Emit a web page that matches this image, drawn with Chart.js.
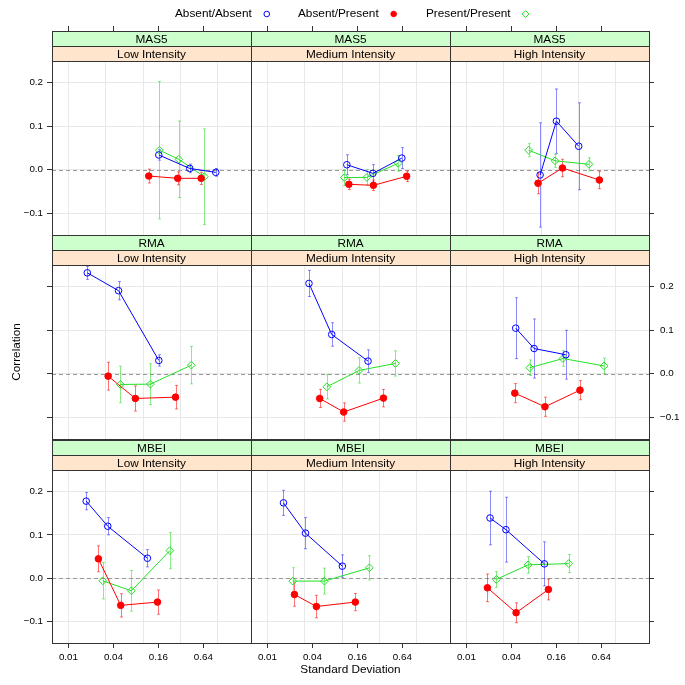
<!DOCTYPE html>
<html>
<head>
<meta charset="utf-8">
<script src="https://cdn.jsdelivr.net/npm/chart.js@4.4.0/dist/chart.umd.min.js"></script>
<style>
  html, body { margin: 0; padding: 0; background: #fff; }
  #wrap { position: relative; width: 685px; height: 685px; }
  #wrap canvas { position: absolute; left: 0; top: 0; }
</style>
</head>
<body>
<div id="wrap"></div>
<script>
const methods = ['MAS5', 'RMA', 'MBEI'];
const intensities = ['Low Intensity', 'Medium Intensity', 'High Intensity'];
const groups = ['Absent/Absent', 'Absent/Present', 'Present/Present'];

const xTicks = [0.01, 0.04, 0.16, 0.64];
const xTickLabels = ['0.01', '0.04', '0.16', '0.64'];
const xGrid = [0.01, 0.0316, 0.1, 0.316, 1];
const yTicks = [-0.1, 0, 0.1, 0.2];
const yTickLabels = ['\u22120.1', '0.0', '0.1', '0.2'];

// each array: [Absent/Absent, Absent/Present, Present/Present]
const mas5LowSd = [[0.162, 0.42, 0.937], [0.119, 0.290, 0.597], [0.165, 0.300, 0.658]];
const mas5LowCor = [[0.034, 0.003, -0.006], [-0.0145, -0.0197, -0.0197], [0.045, 0.024, -0.016]];
const mas5LowErr = [[0.012, 0.010, 0.009], [0.016, 0.015, 0.014], [0.158, 0.088, 0.110]];

const mas5MedSd = [[0.1155, 0.258, 0.629], [0.123, 0.262, 0.730], [0.107, 0.214, 0.561]];
const mas5MedCor = [[0.0115, -0.0083, 0.0268], [-0.0335, -0.0358, -0.015], [-0.018, -0.0175, 0.0147]];
const mas5MedErr = [[0.023, 0.020, 0.024], [0.012, 0.012, 0.012], [0.018, 0.018, 0.018]];

const mas5HighSd = [[0.0968, 0.16, 0.318], [0.0908, 0.1925, 0.601], [0.068, 0.1535, 0.437]];
const mas5HighCor = [[-0.012, 0.1117, 0.054], [-0.031, 0.004, -0.0236], [0.045, 0.0206, 0.0124]];
const mas5HighErr = [[0.120, 0.074, 0.100], [0.024, 0.020, 0.020], [0.015, 0.015, 0.015]];

const rmaLowSd = [[0.0179, 0.0468, 0.162], [0.034, 0.0786, 0.271], [0.0495, 0.125, 0.442]];
const rmaLowCor = [[0.232, 0.191, 0.0306], [-0.0055, -0.0568, -0.0538], [-0.0246, -0.0239, 0.0198]];
const rmaLowErr = [[0.015, 0.021, 0.013], [0.032, 0.029, 0.027], [0.042, 0.047, 0.043]];

const rmaMedSd = [[0.036, 0.0725, 0.222], [0.0501, 0.1049, 0.357], [0.0624, 0.1685, 0.517]];
const rmaMedCor = [[0.2076, 0.0903, 0.029], [-0.0568, -0.088, -0.056], [-0.030, 0.0076, 0.0237]];
const rmaMedErr = [[0.030, 0.027, 0.026], [0.021, 0.021, 0.020], [0.028, 0.029, 0.029]];

const rmaHighSd = [[0.0457, 0.0805, 0.214], [0.0444, 0.1124, 0.331], [0.0705, 0.196, 0.694]];
const rmaHighCor = [[0.1048, 0.058, 0.0437], [-0.0446, -0.0759, -0.0377], [0.0138, 0.035, 0.018]];
const rmaHighErr = [[0.070, 0.068, 0.056], [0.022, 0.022, 0.022], [0.018, 0.018, 0.018]];

const mbeiLowSd = [[0.0173, 0.0336, 0.114], [0.0252, 0.0501, 0.1556], [0.0288, 0.0696, 0.228]];
const mbeiLowCor = [[0.178, 0.120, 0.046], [0.0446, -0.063, -0.0554], [-0.0062, -0.0293, 0.0637]];
const mbeiLowErr = [[0.020, 0.020, 0.020], [0.030, 0.027, 0.028], [0.042, 0.047, 0.042]];

const mbeiMedSd = [[0.0164, 0.0323, 0.1006], [0.023, 0.0452, 0.150], [0.0218, 0.0579, 0.2315]];
const mbeiMedCor = [[0.174, 0.104, 0.0277], [-0.0379, -0.0656, -0.0554], [-0.0069, -0.0069, 0.0238]];
const mbeiMedErr = [[0.029, 0.036, 0.026], [0.027, 0.026, 0.020], [0.031, 0.030, 0.028]];

const mbeiHighSd = [[0.0207, 0.0338, 0.1106], [0.0191, 0.0462, 0.125], [0.0252, 0.0669, 0.234]];
const mbeiHighCor = [[0.139, 0.112, 0.033], [-0.0224, -0.080, -0.0263], [-0.003, 0.0307, 0.0337]];
const mbeiHighErr = [[0.062, 0.075, 0.051], [0.032, 0.023, 0.024], [0.018, 0.019, 0.021]];

const panels = [
    [mas5LowSd, mas5LowCor, mas5LowErr], [mas5MedSd, mas5MedCor, mas5MedErr], [mas5HighSd, mas5HighCor, mas5HighErr],
    [rmaLowSd, rmaLowCor, rmaLowErr], [rmaMedSd, rmaMedCor, rmaMedErr], [rmaHighSd, rmaHighCor, rmaHighErr],
    [mbeiLowSd, mbeiLowCor, mbeiLowErr], [mbeiMedSd, mbeiMedCor, mbeiMedErr], [mbeiHighSd, mbeiHighCor, mbeiHighErr]
];

// look of the three groups
const lineColors = ['#0000ff', '#ff0000', '#22e022'];
const barColors = ['rgba(0,0,255,0.45)', 'rgba(255,0,0,0.55)', 'rgba(40,220,40,0.55)'];
const pointStyles = ['circle', 'circle', 'rectRot'];
const pointFills = ['rgba(0,0,0,0)', '#ff0000', 'rgba(0,0,0,0)'];
const pointRadii = [3.3, 3.3, 3.9];

// page layout (px)
const colLeft = [52, 251, 450];
const panelW = 199;
const rowTop = [31, 235, 440];
const plotBottom = [235, 439, 643];
const stripH = 15;
const xMin = 0.00603, xMax = 2.774;
const yMin = -0.15, yMax = 0.25;
const frameColor = '#333';
const gridColor = '#e8e8e8';
const fontFamily = "'Liberation Sans', Arial, sans-serif";

Chart.defaults.font.family = fontFamily;
Chart.defaults.color = '#000';

const wrap = document.getElementById('wrap');

function drawLegend(ctx) {
    const textX = [175, 298, 426];
    const y = 14;
    ctx.save();
    ctx.font = '11.8px ' + fontFamily;
    ctx.textBaseline = 'middle';
    groups.forEach((g, i) => {
        ctx.fillStyle = '#000';
        ctx.fillText(g, textX[i], y);
        const sx = textX[i] + ctx.measureText(g).width + 15;
        ctx.strokeStyle = lineColors[i];
        ctx.fillStyle = pointFills[i];
        ctx.lineWidth = 1;
        Chart.helpers.drawPoint(ctx, {pointStyle: pointStyles[i], radius: pointRadii[i] - 0.5, borderWidth: 1, rotation: 0}, sx, y);
    });
    ctx.restore();
}

function panelPlugin(row, col) {
    return {
        id: 'panelDecor' + row + col,
        beforeDatasetsDraw(chart) {
            const {ctx, chartArea: a, scales} = chart;
            ctx.save();
            ctx.beginPath();
            ctx.rect(a.left, a.top, a.right - a.left, a.bottom - a.top);
            ctx.clip();
            // dashed reference line at zero
            const y0 = Math.round(scales.y.getPixelForValue(0)) + 0.5;
            ctx.strokeStyle = '#999';
            ctx.lineWidth = 1;
            ctx.setLineDash([4, 3]);
            ctx.beginPath();
            ctx.moveTo(a.left, y0);
            ctx.lineTo(a.right, y0);
            ctx.stroke();
            ctx.setLineDash([]);
            // error bars
            chart.data.datasets.forEach((ds, i) => {
                const meta = chart.getDatasetMeta(i);
                ctx.strokeStyle = barColors[i];
                ds.data.forEach((p, k) => {
                    const x = Math.round(meta.data[k].x) + 0.5;
                    const yLo = scales.y.getPixelForValue(p.y - ds.err[k]);
                    const yHi = scales.y.getPixelForValue(p.y + ds.err[k]);
                    ctx.beginPath();
                    ctx.moveTo(x, yLo);
                    ctx.lineTo(x, yHi);
                    ctx.moveTo(x - 1.5, yLo);
                    ctx.lineTo(x + 1.5, yLo);
                    ctx.moveTo(x - 1.5, yHi);
                    ctx.lineTo(x + 1.5, yHi);
                    ctx.stroke();
                });
            });
            ctx.restore();
        },
        afterDraw(chart) {
            const {ctx, chartArea: a, scales} = chart;
            const w = a.right - a.left;
            ctx.save();
            ctx.lineWidth = 1;
            ctx.strokeStyle = frameColor;
            // panel frame
            ctx.strokeRect(a.left + 0.5, a.top + 0.5, w, a.bottom - a.top);
            // strips
            const s1 = a.top - 2 * stripH, s2 = a.top - stripH;
            ctx.fillStyle = '#ccffcc';
            ctx.fillRect(a.left, s1, w, stripH);
            ctx.fillStyle = '#ffe5cc';
            ctx.fillRect(a.left, s2, w, stripH);
            ctx.strokeRect(a.left + 0.5, s1 + 0.5, w, stripH);
            ctx.strokeRect(a.left + 0.5, s2 + 0.5, w, stripH);
            ctx.fillStyle = '#000';
            ctx.font = '11.8px ' + fontFamily;
            ctx.textAlign = 'center';
            ctx.textBaseline = 'middle';
            const cx = (a.left + a.right) / 2;
            ctx.fillText(methods[row], cx, s1 + stripH / 2 + 1);
            ctx.fillText(intensities[col], cx, s2 + stripH / 2 + 1);
            // tick marks above the top strips
            if (row === 0) {
                ctx.beginPath();
                xTicks.forEach(v => {
                    const x = Math.round(scales.x.getPixelForValue(v)) + 0.5;
                    ctx.moveTo(x, s1 - 5);
                    ctx.lineTo(x, s1);
                });
                ctx.stroke();
            }
            ctx.restore();
            if (row === 0 && col === 0) drawLegend(ctx);
        }
    };
}

function makePanel(row, col) {
    const canvas = document.createElement('canvas');
    canvas.width = 685;
    canvas.height = 685;
    wrap.appendChild(canvas);

    const [sd, cor, err] = panels[row * 3 + col];
    const L = colLeft[col], R = L + panelW;
    const T = rowTop[row] + 2 * stripH, B = plotBottom[row];

    const datasets = groups.map((g, i) => ({
        label: g,
        data: sd[i].map((x, k) => ({x: x, y: cor[i][k]})),
        err: err[i],
        borderColor: lineColors[i],
        backgroundColor: pointFills[i],
        borderWidth: 1,
        pointStyle: pointStyles[i],
        pointRadius: pointRadii[i],
        pointBorderWidth: 1,
        pointBorderColor: lineColors[i],
        pointBackgroundColor: pointFills[i],
        tension: 0,
        fill: false
    }));

    new Chart(canvas, {
        type: 'line',
        data: {datasets: datasets},
        options: {
            responsive: false,
            animation: false,
            events: [],
            layout: {padding: {left: L - 42, right: 685 - R - 30, top: T, bottom: 685 - B - 34}},
            plugins: {legend: {display: false}, tooltip: {enabled: false}},
            scales: {
                x: {
                    type: 'logarithmic',
                    position: 'bottom',
                    min: xMin,
                    max: xMax,
                    bounds: 'data',
                    afterBuildTicks: s => { s.ticks = xTicks.map(v => ({value: v})); },
                    afterFit: s => { s.height = 34; },
                    grid: {drawOnChartArea: false, drawTicks: row === 2, tickLength: 5, tickColor: frameColor},
                    border: {display: false},
                    ticks: {
                        display: row === 2, padding: 3, maxRotation: 0, autoSkip: false,
                        font: {size: 9.8},
                        callback: (v, i) => xTickLabels[i]
                    },
                    title: {display: row === 2 && col === 1, text: 'Standard Deviation', font: {size: 11.8}, padding: 0}
                },
                xg: {
                    type: 'logarithmic',
                    position: 'bottom',
                    min: xMin,
                    max: xMax,
                    bounds: 'data',
                    afterBuildTicks: s => { s.ticks = xGrid.map(v => ({value: v})); },
                    afterFit: s => { s.height = 0; },
                    grid: {color: gridColor, drawTicks: false},
                    border: {display: false},
                    ticks: {display: false}
                },
                y: {
                    type: 'linear',
                    position: 'left',
                    min: yMin,
                    max: yMax,
                    afterBuildTicks: s => { s.ticks = yTicks.map(v => ({value: v})); },
                    afterFit: s => { s.width = 42; },
                    grid: {color: gridColor, drawTicks: col === 0, tickLength: 5, tickColor: frameColor},
                    border: {display: false},
                    ticks: {
                        display: col === 0 && row !== 1, padding: 4,
                        font: {size: 9.8},
                        callback: (v, i) => yTickLabels[i]
                    },
                    title: {display: row === 1 && col === 0, text: 'Correlation', font: {size: 11.8}, padding: 0}
                },
                y2: {
                    type: 'linear',
                    position: 'right',
                    min: yMin,
                    max: yMax,
                    afterBuildTicks: s => { s.ticks = yTicks.map(v => ({value: v})); },
                    afterFit: s => { s.width = 30; },
                    grid: {drawOnChartArea: false, drawTicks: col === 2, tickLength: 5, tickColor: frameColor},
                    border: {display: false},
                    ticks: {
                        display: col === 2 && row === 1, padding: 6,
                        font: {size: 9.8},
                        callback: (v, i) => yTickLabels[i]
                    }
                }
            }
        },
        plugins: [panelPlugin(row, col)]
    });
}

for (let r = 0; r < 3; r++) {
    for (let c = 0; c < 3; c++) {
        makePanel(r, c);
    }
}
</script>
</body>
</html>
